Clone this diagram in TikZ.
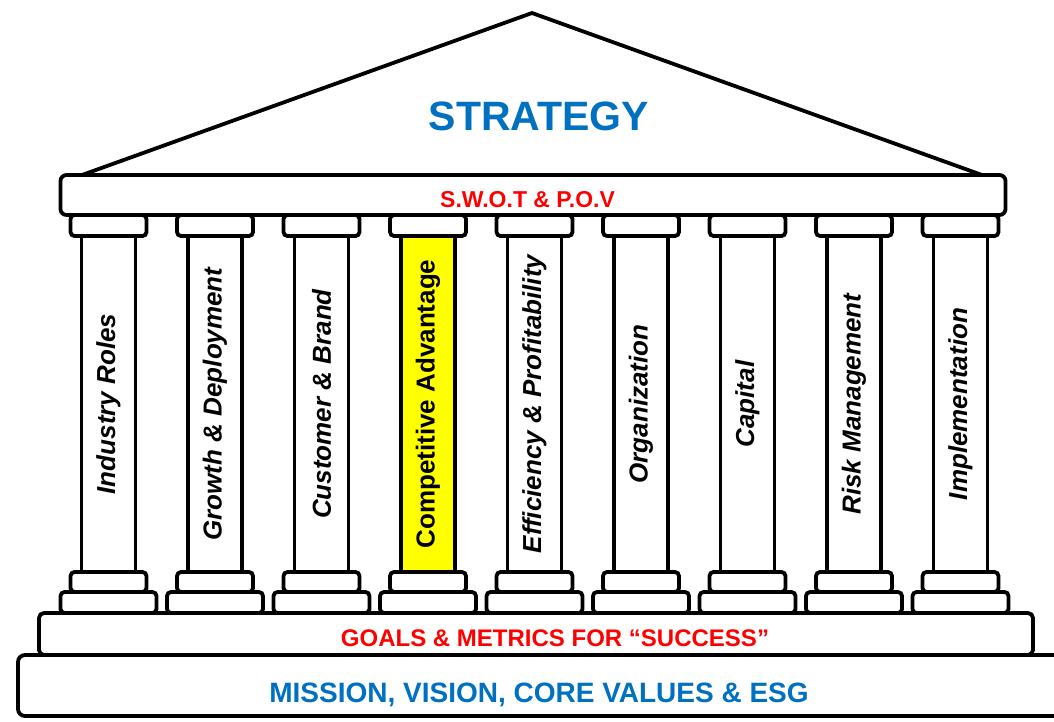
\documentclass[tikz,border=0pt]{standalone}
\usepackage{fontspec}
\setmainfont{Liberation Sans}
\usetikzlibrary{positioning}
\definecolor{strategyblue}{RGB}{0,112,192}
\definecolor{swotred}{RGB}{255,0,0}
\definecolor{highlight}{RGB}{255,255,0}

\begin{document}
\begin{tikzpicture}[x=1pt, y=-1pt,
        part/.style={draw, line width=3.8pt, fill=white, rounded corners=4pt, inner sep=0pt, outer sep=0pt},
        shaft/.style={part, sharp corners, minimum width=54pt, minimum height=336pt, font=\fontsize{26}{26}\selectfont\bfseries\itshape},
        capital/.style={part, minimum width=76pt, minimum height=21pt},
        plinth/.style={part, minimum width=96pt, minimum height=21pt},
        slab/.style={part, rounded corners=7pt},
        heading/.style={font=\fontsize{#1}{#1}\selectfont\bfseries, inner sep=0pt},
    ]
        \useasboundingbox (0,0) rectangle (1054,721);
        \clip (0,0) rectangle (1054,721);

        % Foundation
        \node[slab, minimum width=1056pt, minimum height=61pt] (mission_base) at (546,685.5) {};
        \node[slab, rounded corners=5pt, minimum width=994pt, minimum height=42pt] (goals_step) at (536,634) {};

        % Columns
        \node[shaft] (ind) at (108.5,404) {\rotatebox{90}{Industry Roles}};
        \node[shaft] (grow) at (215,404) {\rotatebox{90}{Growth \& Deployment}};
        \node[shaft] (cust) at (321.5,404) {\rotatebox{90}{Customer \& Brand}};
        \node[shaft, fill=highlight] (comp) at (428,404) {\rotatebox{90}{\upshape Competitive Advantage}};
        \node[shaft] (eff) at (534.5,404) {\rotatebox{90}{Efficiency \& Profitability}};
        \node[shaft] (org) at (641,404) {\rotatebox{90}{Organization}};
        \node[shaft] (capl) at (747.5,404) {\rotatebox{90}{Capital}};
        \node[shaft] (risk) at (854,404) {\rotatebox{90}{Risk Management}};
        \node[shaft] (impl) at (960.5,404) {\rotatebox{90}{Implementation}};

        \foreach \col in {ind,grow,cust,comp,eff,org,capl,risk,impl} {
            \node[capital, above=0pt of \col] (\col_top) {};
            \node[capital, minimum height=20pt, below=0pt of \col] (\col_foot) {};
            \node[plinth, below=0pt of \col_foot] (\col_plinth) {};
        }

        % Roof
        \coordinate (roof_l) at (82,175);
        \coordinate (apex) at (532,13);
        \coordinate (roof_r) at (982,175);
        \draw[line width=3.8pt] (roof_l) -- (apex) -- (roof_r);
        \node[slab, rounded corners=6pt, minimum width=945pt, minimum height=40pt] (beam) at (533,195) {};

        % Labels
        \node[heading=41, text=strategyblue] (strategy) at (539,116) {STRATEGY};
        \node[heading=23, text=swotred] (swot) at (527.5,199.5) {S.W.O.T \& P.O.V};
        \node[heading=24, text=swotred] (goals) at (555,638.5) {GOALS \& METRICS FOR “SUCCESS”};
        \node[heading=28, text=strategyblue] (mission) at (539,695) {MISSION, VISION, CORE VALUES \& ESG};
    \end{tikzpicture}
\end{document}
